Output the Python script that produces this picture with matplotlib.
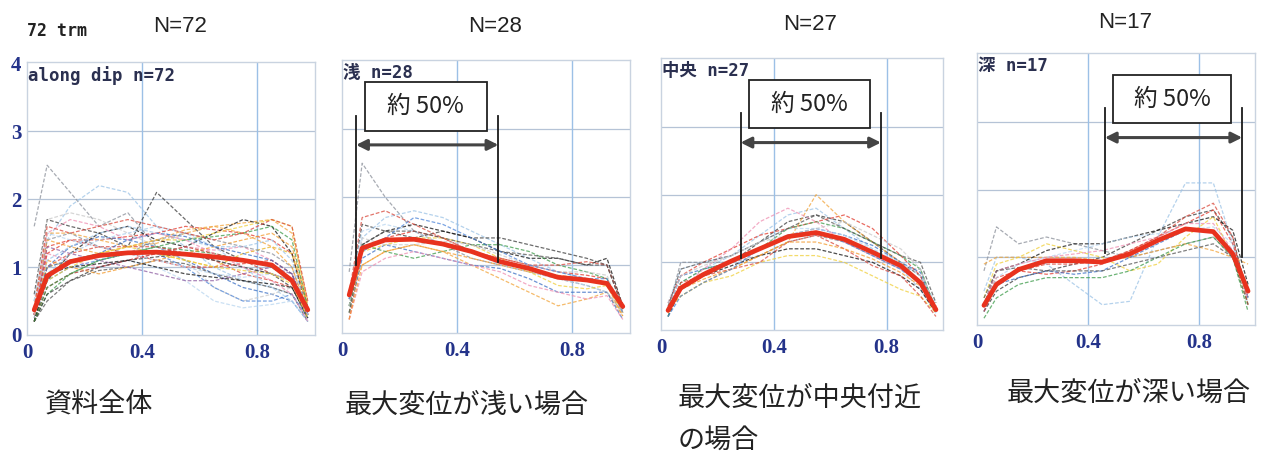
import matplotlib
matplotlib.use("Agg")
import matplotlib.pyplot as plt
from matplotlib.patches import Rectangle

# ---------------- data ----------------
x_pts = [0.025, 0.07, 0.15, 0.25, 0.35, 0.45, 0.55, 0.65, 0.75, 0.85, 0.92, 0.975]

titles = ["N=72", "N=28", "N=27", "N=17"]
inner_labels = ["along dip n=72", "浅 n=28", "中央 n=27", "深 n=17"]
captions = ["資料全体", "最大変位が浅い場合", "最大変位が中央付近", "最大変位が深い場合"]
caption2 = "の場合"
x_ticks = [0, 0.4, 0.8]
x_ticklabels = ["0", "0.4", "0.8"]
y_ticks = [0, 1, 2, 3, 4]
y_ticklabels = ["0", "1", "2", "3", "4"]

mean_all = [0.37, 0.87, 1.08, 1.17, 1.21, 1.22, 1.19, 1.15, 1.10, 1.03, 0.80, 0.37]
mean_shallow = [0.56, 1.25, 1.37, 1.38, 1.31, 1.20, 1.05, 0.95, 0.82, 0.78, 0.73, 0.39]
mean_center = [0.29, 0.62, 0.82, 1.02, 1.20, 1.38, 1.44, 1.34, 1.15, 0.95, 0.70, 0.30]
mean_deep = [0.29, 0.60, 0.82, 0.95, 0.95, 0.93, 1.05, 1.25, 1.42, 1.38, 1.05, 0.50]

lines_all = [
    [1.6, 2.5, 2.1, 1.6, 1.8, 1.3, 1.2, 1.1, 1.0, 0.9, 0.8, 0.3],
    [0.5, 1.4, 1.9, 2.2, 2.1, 1.6, 1.3, 1.0, 0.8, 0.7, 0.6, 0.25],
    [0.6, 1.7, 1.6, 1.5, 1.3, 2.1, 1.7, 1.3, 1.1, 1.0, 0.8, 0.3],
    [0.3, 1.3, 1.4, 1.4, 1.45, 1.5, 1.6, 1.55, 1.5, 1.4, 1.2, 0.4],
    [0.4, 1.5, 1.5, 1.4, 1.3, 1.35, 1.5, 1.6, 1.65, 1.7, 1.5, 0.5],
    [0.2, 0.8, 1.2, 1.5, 1.6, 1.4, 1.3, 1.5, 1.7, 1.6, 1.2, 0.3],
    [0.3, 1.0, 1.3, 1.45, 1.4, 1.3, 1.1, 0.9, 0.7, 0.6, 0.5, 0.2],
    [0.3, 0.7, 0.9, 1.0, 1.1, 1.0, 0.8, 0.5, 0.4, 0.45, 0.5, 0.2],
    [0.3, 0.9, 1.1, 1.2, 1.3, 1.4, 1.4, 1.5, 1.6, 1.7, 1.6, 0.4],
    [0.2, 0.6, 0.9, 1.1, 1.2, 1.3, 1.25, 1.2, 1.1, 1.0, 0.8, 0.3],
    [0.4, 1.2, 1.1, 1.0, 1.1, 1.2, 1.3, 1.25, 1.3, 1.1, 0.9, 0.35],
    [0.3, 1.0, 1.2, 1.3, 1.3, 1.3, 1.2, 1.1, 0.9, 0.8, 0.7, 0.3],
    [0.2, 0.5, 0.8, 0.95, 1.0, 1.1, 1.05, 0.9, 0.8, 0.7, 0.6, 0.2],
    [0.3, 1.1, 1.0, 0.9, 1.0, 1.1, 1.2, 1.3, 1.4, 1.5, 1.3, 0.45],
    [0.5, 1.7, 1.8, 1.7, 1.5, 1.3, 1.1, 0.7, 0.5, 0.6, 0.7, 0.3],
    [0.3, 0.8, 1.0, 1.1, 1.2, 1.2, 1.0, 0.7, 0.5, 0.5, 0.6, 0.25],
    [0.2, 0.7, 0.9, 1.0, 1.1, 1.2, 1.3, 1.2, 1.1, 0.9, 0.8, 0.3],
    [0.4, 1.0, 1.1, 1.2, 1.2, 1.2, 1.1, 1.0, 1.2, 1.3, 1.2, 0.4],
    [0.3, 1.3, 1.2, 1.1, 1.0, 0.9, 0.8, 0.8, 0.9, 1.0, 0.9, 0.3],
    [0.3, 0.9, 1.2, 1.4, 1.5, 1.6, 1.5, 1.3, 1.0, 0.7, 0.5, 0.2],
    [0.25, 1.4, 1.5, 1.3, 1.2, 1.4, 1.5, 1.4, 1.3, 1.2, 1.0, 0.3],
    [0.35, 1.1, 1.3, 1.5, 1.6, 1.5, 1.4, 1.3, 1.3, 1.4, 1.1, 0.35],
    [0.2, 0.6, 0.8, 1.0, 1.1, 1.15, 1.2, 1.1, 1.0, 0.9, 0.7, 0.25],
    [0.3, 1.2, 1.4, 1.3, 1.2, 1.1, 1.0, 1.0, 1.05, 1.1, 0.9, 0.3],
    [0.4, 1.4, 1.3, 1.2, 1.3, 1.4, 1.55, 1.6, 1.5, 1.3, 1.0, 0.35],
    [0.2, 0.9, 1.0, 1.05, 1.1, 1.0, 0.9, 0.85, 0.8, 0.75, 0.7, 0.25],
    [0.3, 1.0, 1.1, 1.2, 1.4, 1.5, 1.45, 1.3, 1.2, 1.1, 0.9, 0.3],
    [0.5, 1.5, 1.4, 1.3, 1.2, 1.1, 1.0, 0.9, 0.85, 0.9, 0.8, 0.3],
    [0.3, 0.8, 1.0, 1.2, 1.3, 1.2, 1.1, 1.0, 0.95, 0.9, 0.75, 0.25],
    [0.2, 0.7, 0.9, 1.1, 1.2, 1.3, 1.4, 1.45, 1.5, 1.6, 1.4, 0.4],
    [0.3, 1.5, 1.7, 1.6, 1.4, 1.5, 1.4, 1.2, 1.0, 0.8, 0.6, 0.2],
    [0.4, 1.6, 1.5, 1.6, 1.7, 1.6, 1.5, 1.4, 1.5, 1.7, 1.6, 0.5],
]

lines_shallow = [
    [0.9, 2.5, 2.0, 1.5, 1.3, 1.1, 1.0, 0.9, 0.8, 0.7, 0.6, 0.3],
    [0.3, 1.4, 1.7, 1.8, 1.7, 1.5, 1.3, 1.1, 0.9, 0.8, 0.7, 0.3],
    [0.5, 1.6, 1.5, 1.4, 1.5, 1.4, 1.4, 1.3, 1.2, 1.1, 1.0, 0.4],
    [0.2, 1.2, 1.4, 1.5, 1.4, 1.2, 1.1, 1.0, 0.9, 0.85, 0.8, 0.3],
    [0.6, 1.0, 1.2, 1.3, 1.2, 1.0, 0.8, 0.6, 0.4, 0.5, 0.6, 0.25],
    [0.4, 1.3, 1.5, 1.6, 1.5, 1.4, 1.2, 1.1, 1.1, 1.0, 1.1, 0.4],
    [0.3, 1.1, 1.3, 1.2, 1.1, 1.0, 0.95, 0.8, 0.6, 0.6, 0.6, 0.2],
    [0.5, 1.5, 1.6, 1.5, 1.3, 1.2, 1.0, 0.9, 0.8, 0.7, 0.6, 0.3],
    [0.3, 1.2, 1.3, 1.4, 1.4, 1.3, 1.1, 0.9, 0.7, 0.65, 0.7, 0.3],
    [0.4, 1.3, 1.2, 1.1, 1.2, 1.3, 1.3, 1.2, 1.0, 0.9, 0.8, 0.35],
    [0.2, 0.9, 1.1, 1.2, 1.1, 1.0, 0.9, 0.7, 0.6, 0.5, 0.55, 0.2],
    [0.6, 1.7, 1.8, 1.6, 1.4, 1.2, 1.1, 1.0, 1.0, 1.05, 1.0, 0.4],
    [0.3, 1.3, 1.5, 1.5, 1.4, 1.3, 1.2, 1.15, 1.1, 1.0, 1.0, 0.35],
    [0.2, 1.0, 1.2, 1.3, 1.2, 1.1, 1.0, 0.9, 0.85, 0.8, 0.7, 0.25],
    [0.4, 1.4, 1.3, 1.3, 1.35, 1.3, 1.15, 1.0, 0.9, 0.9, 0.85, 0.3],
    [0.5, 1.2, 1.4, 1.7, 1.6, 1.4, 1.2, 1.0, 0.9, 0.8, 0.8, 0.3],
]

lines_center = [
    [0.3, 1.0, 1.0, 1.0, 1.1, 1.3, 1.4, 1.3, 1.1, 0.9, 0.9, 0.3],
    [0.2, 0.7, 0.9, 1.1, 1.4, 1.7, 1.8, 1.5, 1.2, 0.9, 0.6, 0.25],
    [0.3, 0.6, 0.8, 1.0, 1.3, 1.6, 1.7, 1.6, 1.3, 1.0, 0.8, 0.3],
    [0.4, 0.8, 1.0, 1.2, 1.4, 1.5, 1.6, 1.7, 1.5, 1.1, 0.8, 0.35],
    [0.3, 0.5, 0.7, 0.9, 1.1, 1.3, 2.0, 1.6, 1.3, 1.0, 0.7, 0.3],
    [0.2, 0.6, 0.8, 0.95, 1.1, 1.2, 1.2, 1.1, 1.0, 0.8, 0.6, 0.25],
    [0.3, 0.8, 0.9, 1.0, 1.2, 1.4, 1.5, 1.4, 1.25, 1.0, 0.85, 0.3],
    [0.4, 0.9, 1.0, 1.1, 1.3, 1.5, 1.5, 1.4, 1.2, 1.0, 0.8, 0.4],
    [0.3, 0.5, 0.7, 0.8, 1.0, 1.1, 1.1, 1.0, 0.8, 0.6, 0.5, 0.25],
    [0.2, 0.7, 0.9, 1.0, 1.2, 1.5, 1.6, 1.5, 1.3, 1.1, 0.9, 0.3],
    [0.3, 0.6, 0.9, 1.2, 1.6, 1.8, 1.6, 1.3, 1.1, 0.9, 0.7, 0.3],
    [0.3, 0.7, 0.8, 0.9, 1.0, 1.3, 1.4, 1.2, 0.95, 0.8, 0.5, 0.2],
    [0.35, 0.9, 1.0, 1.1, 1.3, 1.5, 1.7, 1.5, 1.3, 1.1, 1.0, 0.4],
    [0.25, 0.6, 0.75, 0.9, 1.1, 1.3, 1.3, 1.2, 1.05, 0.85, 0.65, 0.3],
    [0.3, 0.8, 0.95, 1.1, 1.3, 1.4, 1.5, 1.6, 1.4, 1.2, 0.9, 0.3],
    [0.2, 0.5, 0.7, 0.9, 1.2, 1.4, 1.45, 1.3, 1.1, 0.9, 0.7, 0.25],
]

lines_deep = [
    [0.8, 1.45, 1.2, 1.3, 1.2, 1.1, 1.0, 1.1, 1.2, 1.3, 1.0, 0.5],
    [0.5, 1.0, 1.0, 0.9, 0.6, 0.3, 0.35, 1.3, 2.1, 2.1, 1.2, 0.4],
    [0.2, 0.5, 0.7, 0.8, 0.9, 1.0, 1.2, 1.4, 1.6, 1.7, 1.3, 0.4],
    [0.3, 0.7, 0.8, 0.75, 0.8, 0.9, 1.1, 1.3, 1.5, 1.7, 1.2, 0.5],
    [0.9, 1.0, 1.0, 1.0, 1.0, 0.95, 1.0, 1.1, 1.2, 1.1, 1.0, 0.9],
    [0.3, 0.8, 0.9, 1.1, 1.2, 1.2, 1.3, 1.4, 1.5, 1.6, 1.4, 0.6],
    [0.2, 0.6, 0.7, 0.8, 0.75, 0.8, 1.0, 1.2, 1.4, 1.4, 1.1, 0.4],
    [0.3, 0.7, 0.9, 1.0, 1.1, 1.2, 1.3, 1.35, 1.4, 1.45, 1.2, 0.3],
    [0.4, 0.9, 1.0, 1.2, 1.1, 1.0, 0.8, 0.9, 1.3, 1.6, 1.0, 0.3],
    [0.1, 0.4, 0.6, 0.7, 0.7, 0.7, 0.8, 1.0, 1.2, 1.3, 1.0, 0.2],
    [0.3, 0.8, 0.9, 1.0, 1.05, 1.1, 1.2, 1.3, 1.5, 1.5, 1.1, 0.4],
    [0.2, 0.6, 0.8, 0.9, 0.9, 0.95, 1.1, 1.3, 1.6, 1.8, 1.3, 0.3],
    [0.4, 0.8, 0.85, 0.8, 0.8, 0.8, 0.9, 1.0, 1.1, 1.2, 1.0, 0.3],
]

# "about 50%" span annotations (panels 2-4)
span_left = [0.049, 0.282, 0.46]
span_right = [0.543, 0.78, 0.954]
span_left_bottom = [1.0, 1.07, 1.06]
span_right_bottom = [1.04, 1.07, 1.0]
span_label = "約 50%"

# ---------------- style ----------------
thin_colors = ["#8a8f99", "#9cc3e6", "#3a3a3a", "#e23b2e", "#f2a43a", "#111111",
               "#3b6fc4", "#b9d6f0", "#f0cf3a", "#3d9b4a", "#ef8fb2", "#d9483b",
               "#555555", "#f39a2c", "#c9c9c9", "#4f86d9", "#c0392b", "#e6b422",
               "#8e5ea2", "#a7cdee"]

positions = [
    [27 / 1261, 1 - 335 / 458, 288 / 1261, 273 / 458],
    [342 / 1261, 1 - 333 / 458, 288 / 1261, 273 / 458],
    [661 / 1261, 1 - 330 / 458, 282 / 1261, 272 / 458],
    [977 / 1261, 1 - 325 / 458, 278 / 1261, 272 / 458],
]
title_xy = [(180, 27), (495, 27), (810, 24), (1125, 22)]
caption_xy = [(45, 405), (345, 405), (678, 398), (1007, 393)]

navy = "#24338a"
cjk = ["Noto Sans CJK JP", "DejaVu Sans"]

fig = plt.figure(figsize=(12.61, 4.58), dpi=100)
fig.patch.set_facecolor("white")

all_lines = [lines_all, lines_shallow, lines_center, lines_deep]
all_means = [mean_all, mean_shallow, mean_center, mean_deep]

for i in range(4):
    ax = fig.add_axes(positions[i])
    ax.set_xlim(0, 1.0)
    ax.set_ylim(0, 4.02)
    for j, ys in enumerate(all_lines[i]):
        ax.plot(x_pts, ys, color=thin_colors[j % len(thin_colors)], lw=0.9,
                ls=(0, (3, 1.5)), alpha=0.75, zorder=2)
    ax.plot(x_pts, all_means[i], color="#e8321e", lw=3.4, zorder=4,
            solid_capstyle="round")

    ax.set_xticks(x_ticks)
    ax.set_xticklabels(x_ticklabels, family="Liberation Serif",
                       fontweight="bold", fontsize=15, color=navy)
    ax.set_yticks(y_ticks)
    if i == 0:
        ax.set_yticklabels(y_ticklabels, family="Liberation Serif",
                           fontweight="bold", fontsize=15, color=navy)
    else:
        ax.set_yticklabels([])
    ax.tick_params(length=0, pad=4)
    ax.tick_params(axis="x", pad=6)
    for yv in [1, 2, 3]:
        ax.axhline(yv, color="#b5c3d6", lw=0.9, zorder=1)
    for xv in [0.4, 0.8]:
        ax.axvline(xv, color="#9cc0e6", lw=1.0, zorder=1)
    for s in ax.spines.values():
        s.set_color("#c9d3e0")
        s.set_linewidth(1.0)

    ax.text(0.005, 0.985, inner_labels[i], transform=ax.transAxes,
            ha="left", va="top", fontsize=12.5, fontweight="bold",
            color="#2b3050", family=["DejaVu Sans Mono", "Noto Sans CJK JP"],
            zorder=6)

    if i > 0:
        k = i - 1
        xl, xr = span_left[k], span_right[k]
        ax.plot([xl, xl], [span_left_bottom[k], 3.2], color="#1a1a1a", lw=1.3, zorder=5)
        ax.plot([xr, xr], [span_right_bottom[k], 3.2], color="#1a1a1a", lw=1.3, zorder=5)
        ax.annotate("", xy=(xr, 2.77), xytext=(xl, 2.77),
                    arrowprops=dict(arrowstyle="<|-|>", color="#444444", lw=2.2,
                                    mutation_scale=16, shrinkA=0, shrinkB=0),
                    zorder=5)
        bx0 = xl + 0.03
        bx1 = xr - 0.04
        ax.add_patch(Rectangle((bx0, 2.98), bx1 - bx0, 0.72, facecolor="white",
                               edgecolor="#222222", lw=1.3, zorder=6))
        ax.text((bx0 + bx1) / 2, 3.34, span_label, ha="center", va="center",
                fontsize=17, family=cjk, color="#222222", zorder=7)

    tx, ty = title_xy[i]
    fig.text(tx / 1261, 1 - ty / 458, titles[i], ha="center", va="center",
             fontsize=16, family="Liberation Sans", color="#222222")
    cx, cy = caption_xy[i]
    fig.text(cx / 1261, 1 - cy / 458, captions[i], ha="left", va="center",
             fontsize=19.5, family=cjk, color="#222222")

fig.text(678 / 1261, 1 - 440 / 458, caption2, ha="left", va="center",
         fontsize=19.5, family=cjk, color="#222222")
fig.text(27 / 1261, 1 - 31 / 458, "72 trm", ha="left", va="center",
         fontsize=12, fontweight="bold", family="DejaVu Sans Mono", color="#222222")

fig.savefig("out.png", dpi=100)
